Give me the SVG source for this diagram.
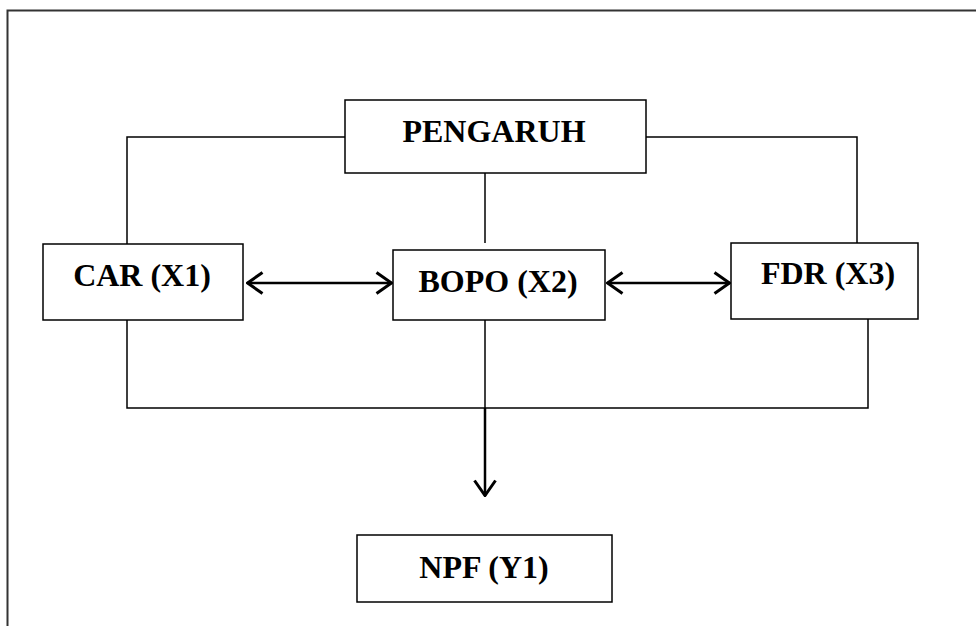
<svg xmlns="http://www.w3.org/2000/svg" width="976" height="626" viewBox="0 0 976 626">
<style>
.box{fill:#fff;stroke:#000;stroke-width:1.5}
.lbl{font-family:"Liberation Serif","Times New Roman",serif;font-weight:bold;font-size:32px;text-anchor:middle;fill:#000}
.ln{fill:none;stroke:#000;stroke-width:1.5}
.ar{fill:none;stroke:#000;stroke-width:2.5}
</style>
<defs>
<marker id="open" viewBox="0 0 18 24" refX="17" refY="12" markerWidth="18" markerHeight="24" markerUnits="userSpaceOnUse" orient="auto-start-reverse">
<path d="M1.5,1.5 L16.5,12 L1.5,22.5" fill="none" stroke="#000" stroke-width="3"/>
</marker>
</defs>
<rect width="976" height="626" fill="#fff"/>
<path d="M7.5,626 V10.5 H976" fill="none" stroke="#333" stroke-width="2"/>
<g id="connectors">
<path class="ln" d="M345,137 H127 V244"/>
<path class="ln" d="M646,137 H857 V243"/>
<path class="ln" d="M485,173 V243"/>
<path class="ln" d="M127,320 V408 H868 V319"/>
<path class="ln" d="M485,320 V408"/>
<path class="ar" d="M485,408 V496" marker-end="url(#open)"/>
<path class="ar" d="M247,283 H392" marker-start="url(#open)" marker-end="url(#open)"/>
<path class="ar" d="M607,283 H730" marker-start="url(#open)" marker-end="url(#open)"/>
</g>
<g id="pengaruh"><rect class="box" x="345" y="100" width="301" height="73"/><text class="lbl" x="494" y="142">PENGARUH</text></g>
<g id="car"><rect class="box" x="43" y="244" width="200" height="76"/><text class="lbl" x="142" y="286">CAR (X1)</text></g>
<g id="bopo"><rect class="box" x="393" y="250" width="212" height="70"/><text class="lbl" x="498" y="292">BOPO (X2)</text></g>
<g id="fdr"><rect class="box" x="731" y="243" width="187" height="76"/><text class="lbl" x="828" y="284">FDR (X3)</text></g>
<g id="npf"><rect class="box" x="357" y="535" width="255" height="67"/><text class="lbl" x="484" y="578">NPF (Y1)</text></g>
</svg>
